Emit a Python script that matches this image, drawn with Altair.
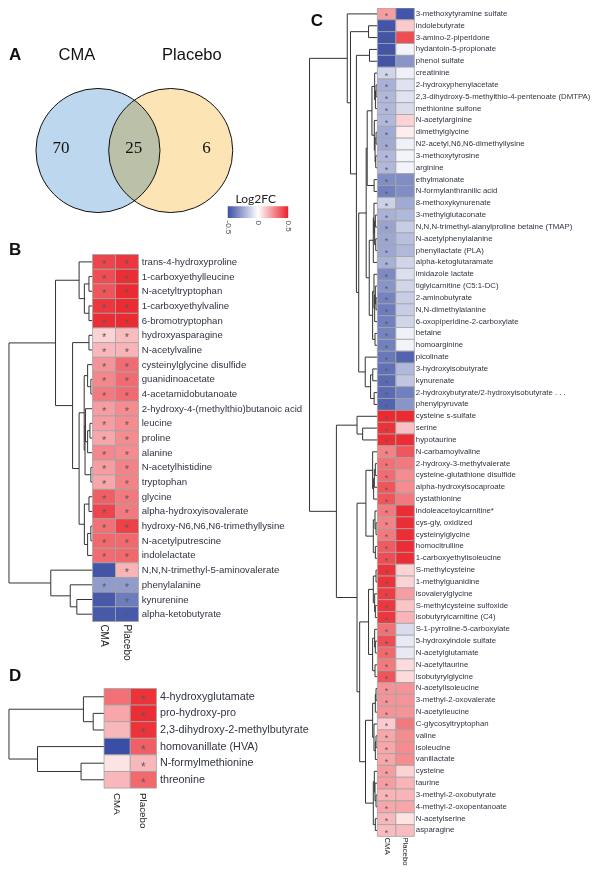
import altair as alt
import pandas as pd

# ---------------- data ----------------
groups = ["CMA", "Placebo"]

venn_sets = ["CMA", "Placebo"]
venn_regions = ["CMA only", "both", "Placebo only"]
venn_counts = [70, 25, 6]

legend_values = [-0.5, 0.0, 0.5]
legend_labels = ["-0.5", "0", "0.5"]

b_names = ["trans-4-hydroxyproline", "1-carboxyethylleucine", "N-acetyltryptophan",
           "1-carboxyethylvaline", "6-bromotryptophan", "hydroxyasparagine", "N-acetylvaline",
           "cysteinylglycine disulfide", "guanidinoacetate", "4-acetamidobutanoate",
           "2-hydroxy-4-(methylthio)butanoic acid", "leucine", "proline", "alanine",
           "N-acetylhistidine", "tryptophan", "glycine", "alpha-hydroxyisovalerate",
           "hydroxy-N6,N6,N6-trimethyllysine", "N-acetylputrescine", "indolelactate",
           "N,N,N-trimethyl-5-aminovalerate", "phenylalanine", "kynurenine", "alpha-ketobutyrate"]
b_cma = [0.42, 0.40, 0.38, 0.45, 0.47, 0.10, 0.16, 0.24, 0.27, 0.30, 0.22, 0.22, 0.20, 0.27,
         0.22, 0.20, 0.36, 0.42, 0.32, 0.34, 0.33, -0.48, -0.28, -0.47, -0.47]
b_pla = [0.45, 0.47, 0.48, 0.48, 0.48, 0.15, 0.17, 0.33, 0.33, 0.33, 0.26, 0.26, 0.26, 0.26,
         0.28, 0.28, 0.30, 0.30, 0.43, 0.34, 0.34, 0.17, -0.28, -0.37, -0.47]
b_sig = [True, True]

c_names = ["3-methoxytyramine sulfate", "indolebutyrate", "3-amino-2-piperidone",
           "hydantoin-5-propionate", "phenol sulfate", "creatinine", "2-hydroxyphenylacetate",
           "2,3-dihydroxy-5-methylthio-4-pentenoate (DMTPA)", "methionine sulfone",
           "N-acetylarginine", "dimethylglycine", "N2-acetyl,N6,N6-dimethyllysine",
           "3-methoxytyrosine", "arginine", "ethylmalonate", "N-formylanthranilic acid",
           "8-methoxykynurenate", "3-methylglutaconate",
           "N,N,N-trimethyl-alanylproline betaine (TMAP)", "N-acetylphenylalanine",
           "phenyllactate (PLA)", "alpha-ketoglutaramate", "imidazole lactate",
           "tiglylcarnitine (C5:1-DC)", "2-aminobutyrate", "N,N-dimethylalanine",
           "6-oxopiperidine-2-carboxylate", "betaine", "homoarginine", "picolinate",
           "3-hydroxyisobutyrate", "kynurenate", "2-hydroxybutyrate/2-hydroxyisobutyrate . . .",
           "phenylpyruvate", "cysteine s-sulfate", "serine", "hypotaurine", "N-carbamoylvaline",
           "2-hydroxy-3-methylvalerate", "cysteine-glutathione disulfide",
           "alpha-hydroxyisocaproate", "cystathionine", "indoleacetoylcarnitine*",
           "cys-gly, oxidized", "cysteinylglycine", "homocitrulline", "1-carboxyethylisoleucine",
           "S-methylcysteine", "1-methylguanidine", "isovalerylglycine",
           "S-methylcysteine sulfoxide", "isobutyrylcarnitine (C4)", "S-1-pyrroline-5-carboxylate",
           "5-hydroxyindole sulfate", "N-acetylglutamate", "N-acetyltaurine", "isobutyrylglycine",
           "N-acetylisoleucine", "3-methyl-2-oxovalerate", "N-acetylleucine",
           "C-glycosyltryptophan", "valine", "isoleucine", "vanillactate", "cysteine", "taurine",
           "3-methyl-2-oxobutyrate", "4-methyl-2-oxopentanoate", "N-acetylserine", "asparagine"]
c_cma = [0.22, -0.48, -0.48, -0.48, -0.48, -0.12, -0.22, -0.20, -0.20, -0.20,
         -0.24, -0.24, -0.20, -0.20, -0.32, -0.36, -0.13, -0.22, -0.26, -0.25,
         -0.25, -0.22, -0.33, -0.30, -0.35, -0.37, -0.36, -0.35, -0.36, -0.38,
         -0.40, -0.42, -0.42, -0.44, 0.48, 0.46, 0.47, 0.28, 0.32, 0.33,
         0.38, 0.38, 0.30, 0.28, 0.30, 0.37, 0.40, 0.46, 0.46, 0.44,
         0.45, 0.45, 0.32, 0.40, 0.34, 0.30, 0.38, 0.24, 0.24, 0.24,
         0.12, 0.20, 0.20, 0.20, 0.22, 0.22, 0.17, 0.20, 0.16, 0.15]
c_pla = [-0.48, 0.12, 0.40, -0.03, -0.30, -0.04, -0.08, -0.08, -0.10, 0.10,
         0.04, -0.04, -0.03, -0.03, -0.32, -0.32, -0.24, -0.20, -0.14, -0.18,
         -0.20, -0.12, -0.09, -0.12, -0.14, -0.14, -0.12, -0.04, -0.03, -0.44,
         -0.20, -0.16, -0.36, -0.30, 0.48, 0.14, 0.47, 0.38, 0.30, 0.26,
         0.26, 0.30, 0.47, 0.47, 0.47, 0.47, 0.47, 0.10, 0.10, 0.22,
         0.13, 0.17, -0.10, -0.06, -0.06, 0.08, 0.08, 0.24, 0.24, 0.24,
         0.30, 0.26, 0.26, 0.26, 0.10, 0.17, 0.17, 0.20, 0.06, 0.15]
c_sig = [True, False]

d_names = ["4-hydroxyglutamate", "pro-hydroxy-pro", "2,3-dihydroxy-2-methylbutyrate",
           "homovanillate (HVA)", "N-formylmethionine", "threonine"]
d_cma = [0.32, 0.20, 0.16, -0.50, 0.06, 0.16]
d_pla = [0.46, 0.47, 0.46, 0.36, 0.16, 0.34]
d_sig = [False, True]

# dendrograms: (height, left, right); leaves are 1-based row numbers
b_tree = (1.0,
          (0.443,
           (0.161, 1, (0.098, (0.043, 2, 3), (0.043, 4, 5))),
           (0.239,
            (0.043, 6, 7),
            (0.161,
             (0.10,
              (0.059, 8, (0.02, 9, 10)),
              (0.09, (0.085, 11, (0.059, (0.031, 12, 13), 14)), (0.02, 15, 16))),
             (0.098, (0.043, 17, 18), (0.059, (0.02, 19, 20), 21))))),
          (0.50, 22, (0.267, 23, (0.188, 24, 25))))

c_blue = (0.444, 1,
          (0.396, (0.13, 2, 3),
           (0.309, (0.116, 4, 5),
            (0.275,
             (0.165,
              (0.15,
               (0.08, (0.04, 6, (0.029, (0.019, 7, 8), 9)),
                (0.045, 10, (0.034, (0.019, 11, 12), (0.024, 13, 14)))),
               (0.048, 15, 16)),
              (0.12,
               (0.06, (0.05, 17, (0.04, (0.03, 18, 19), (0.024, 20, 21))), 22),
               (0.07, (0.05, 23, (0.04, (0.03, 24, (0.02, 25, 26)), 27)), (0.035, 28, 29)))),
             (0.179, 30, (0.10, (0.068, 31, 32), (0.048, 33, 34)))))))
c_red = (0.604,
         (0.30, 35, (0.217, 36, 37)),
         (0.30,
          (0.169,
           (0.07, 38, (0.055, (0.045, (0.03, 39, 40), 41), 42)),
           (0.06, (0.035, 43, (0.02, 44, 45)), (0.03, 46, 47))),
          (0.261,
           (0.13,
            (0.06, (0.02, 48, 49), (0.04, 50, (0.03, 51, 52))),
            (0.07, (0.04, 53, (0.03, 54, 55)), (0.035, 56, 57))),
           (0.175,
            (0.07, (0.03, (0.02, 58, 59), 60), (0.05, 61, (0.03, (0.02, 62, 63), 64))),
            (0.06, (0.045, 65, (0.035, 66, (0.02, 67, 68))), (0.03, 69, 70))))))
c_tree = (1.0, c_blue, c_red)

d_tree = (1.0,
          (0.217, 1, (0.114, 2, 3)),
          (0.70, 4, (0.242, 5, 6)))

# ---------------- layout helpers ----------------
SX = 584 / 594
SY = 858 / 870


def X(v):
    return (v - 5) * SX


def Y(v):
    return (v - 4) * SY


TXT = "#2f3440"
FONT = "Liberation Sans"

color_scale = alt.Scale(domain=[-0.5, 0, 0.5], range=["#3a4ea5", "#ffffff", "#ea2129"],
                        interpolate="rgb", clamp=True)


def dendro_segments(tree):
    segs = []

    def walk(node):
        if isinstance(node, int):
            return node - 1, 0.0
        h, l, r = node
        yl, hl = walk(l)
        yr, hr = walk(r)
        segs.append(dict(h1=hl, h2=h, r1=yl, r2=yl))
        segs.append(dict(h1=hr, h2=h, r1=yr, r2=yr))
        segs.append(dict(h1=h, h2=h, r1=yl, r2=yr))
        return (yl + yr) / 2, h

    walk(tree)
    return pd.DataFrame(segs)


def heat_panel(names, cma, pla, sig, tree, root_x, heat_l, heat_r, top, bottom,
               label_x, label_size, col_y, col_size, star_size, star_dy):
    n = len(names)
    df = pd.DataFrame({
        "metabolite": names * 2,
        "group": ["CMA"] * n + ["Placebo"] * n,
        "value": cma + pla,
        "sig": [sig[0]] * n + [sig[1]] * n,
    })
    xs = alt.Scale(type="band", domain=groups, range=[X(heat_l), X(heat_r)],
                   paddingInner=0, paddingOuter=0)
    ys = alt.Scale(type="band", domain=names, range=[Y(top), Y(bottom)],
                   paddingInner=0, paddingOuter=0)
    enc_x = alt.X("group:N", scale=xs, axis=None)
    enc_y = alt.Y("metabolite:N", scale=ys, axis=None)
    cells = alt.Chart(df).mark_rect(stroke="#a3a3a3", strokeWidth=0.8).encode(
        x=enc_x, y=enc_y,
        color=alt.Color("value:Q", scale=color_scale, legend=None))
    stars = alt.Chart(df).transform_filter("datum.sig").mark_text(
        text="*", fontSize=star_size, color="#5a5a5a", font=FONT, dy=star_dy).encode(
        x=enc_x, y=enc_y)
    labels = alt.Chart(pd.DataFrame({"metabolite": names})).mark_text(
        align="left", baseline="middle", fontSize=label_size, font=FONT, color=TXT).encode(
        y=enc_y, x=alt.value(X(label_x)), text="metabolite:N")
    cols = alt.Chart(pd.DataFrame({"group": groups})).mark_text(
        angle=90, align="left", baseline="middle", fontSize=col_size, font=FONT,
        color="#222222").encode(x=enc_x, y=alt.value(Y(col_y)), text="group:N")
    segs = dendro_segments(tree)
    dendro = alt.Chart(segs).mark_rule(color="#333333", strokeWidth=1).encode(
        x=alt.X("h1:Q", scale=alt.Scale(domain=[0, 1], range=[X(heat_l), X(root_x)],
                                        nice=False, zero=False), axis=None),
        x2="h2:Q",
        y=alt.Y("r1:Q", scale=alt.Scale(domain=[-0.5, n - 0.5], range=[Y(top), Y(bottom)],
                                        nice=False, zero=False), axis=None),
        y2="r2:Q")
    return [dendro, cells, stars, labels, cols]


layers = []

# ---------------- Venn (A) ----------------
venn_df = pd.DataFrame({"set": venn_sets})
circ_r = 70
layers.append(alt.Chart(venn_df).mark_circle(
    size=3.14159 * circ_r * circ_r, opacity=1, stroke="#111111", strokeWidth=1,
    strokeOpacity=1, blend="multiply").encode(
    x=alt.X("set:N", scale=alt.Scale(type="point", domain=venn_sets,
                                     range=[X(96.5), X(170.5)], padding=0), axis=None),
    y=alt.value(Y(148.5)),
    fill=alt.Fill("set:N", scale=alt.Scale(domain=venn_sets, range=["#bdd7ee", "#fde4b4"]),
                  legend=None)))
layers.append(alt.Chart(venn_df).mark_text(fontSize=16.5, font=FONT, color="#111111").encode(
    x=alt.X("set:N", scale=alt.Scale(type="point", domain=venn_sets,
                                     range=[X(75), X(192)], padding=0), axis=None),
    y=alt.value(Y(52)), text="set:N"))
layers.append(alt.Chart(pd.DataFrame({"region": venn_regions, "count": venn_counts})).mark_text(
    fontSize=17, font="Liberation Serif", color="#111111").encode(
    x=alt.X("region:N", scale=alt.Scale(type="point", domain=venn_regions,
                                        range=[X(59), X(207)], padding=0), axis=None),
    y=alt.value(Y(146)), text="count:Q"))

# ---------------- legend ----------------
lscale = alt.Scale(domain=[-0.5, 0.5], range=[X(228.5), X(290)], nice=False, zero=False)
grad = alt.LinearGradient(gradient="linear", x1=0, x2=1, y1=0, y2=0, stops=[
    alt.GradientStop(offset=0, color="#3a4ea5"),
    alt.GradientStop(offset=0.5, color="#ffffff"),
    alt.GradientStop(offset=1, color="#ea2129")])
layers.append(alt.Chart(pd.DataFrame({"lo": [legend_values[0]], "hi": [legend_values[-1]]}))
              .mark_rect(fill=grad).encode(
    x=alt.X("lo:Q", scale=lscale, axis=None), x2="hi:Q",
    y=alt.value(Y(205)), y2=alt.value(Y(217))))
layers.append(alt.Chart(pd.DataFrame({"v": legend_values, "lab": legend_labels})).mark_text(
    angle=90, align="left", baseline="middle", fontSize=8, font=FONT, color="#444444").encode(
    x=alt.X("v:Q", scale=lscale, axis=None), y=alt.value(Y(219.5)), text="lab:N"))
layers.append(alt.Chart(pd.DataFrame({"t": ["Log2FC"]})).mark_text(
    fontSize=12, font="Lato", color="#222222").encode(
    x=alt.value(X(257)), y=alt.value(Y(198)), text="t:N"))

# ---------------- heatmaps ----------------
layers += heat_panel(b_names, b_cma, b_pla, b_sig, b_tree, 6, 91, 137.7, 254, 626.1,
                     141, 9.6, 629, 10, 11, 3)
layers += heat_panel(c_names, c_cma, c_pla, c_sig, c_tree, 311.7, 380.7, 418.3, 4, 844,
                     419.8, 7.8, 845, 7.8, 9, 2.5)
layers += heat_panel(d_names, d_cma, d_pla, d_sig, d_tree, 6, 102.7, 156, 694, 795,
                     159.5, 10.8, 800, 9.8, 12, 3.5)

# ---------------- panel letters ----------------
for letter, lx, ly in [("A", 6, 52), ("B", 6, 249), ("C", 313, 17), ("D", 6, 681)]:
    layers.append(alt.Chart(pd.DataFrame({"t": [letter]})).mark_text(
        fontSize=17, fontWeight="bold", font=FONT, color="#111111", align="left").encode(
        x=alt.value(X(lx)), y=alt.value(Y(ly)), text="t:N"))

chart = alt.layer(*layers).resolve_scale(x="independent", y="independent").properties(
    width=584, height=858, padding=0, autosize=alt.AutoSizeParams(type="none")
).configure_view(stroke=None)

chart.save("out.html", embed_options={"renderer": "svg", "actions": False})
